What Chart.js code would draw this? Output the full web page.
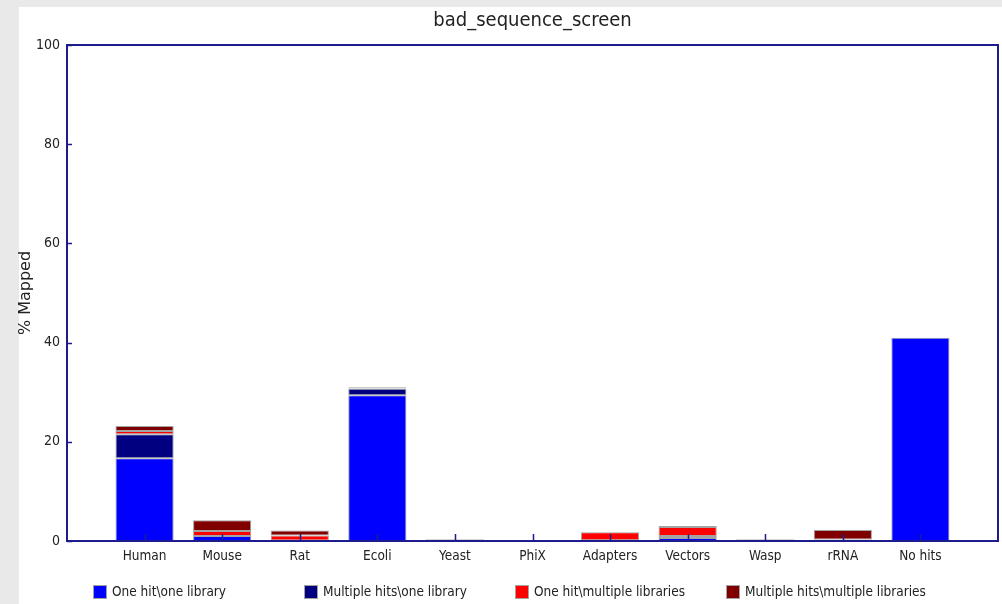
<!DOCTYPE html>
<html>
<head>
<meta charset="utf-8">
<script src="https://cdn.jsdelivr.net/npm/chart.js@4/dist/chart.umd.min.js"></script>
<style>
  html, body { margin: 0; padding: 0; background: #e9e9e9; }
  #panel { position: absolute; left: 19px; top: 7px; width: 983px; height: 597px; background: #ffffff; }
  #wrap { position: absolute; left: 0; top: 0; width: 1002px; height: 604px; }
</style>
</head>
<body>
<div id="panel"></div>
<div id="wrap"><canvas id="c" width="1002" height="604"></canvas></div>
<script>
// Libraries screened
const categories = ['Human', 'Mouse', 'Rat', 'Ecoli', 'Yeast', 'PhiX', 'Adapters', 'Vectors', 'Wasp', 'rRNA', 'No hits'];

// Percentage of reads in each mapping class
const oneHitOneLibrary      = [16.7, 1.0, 0.1, 29.4, 0.3, 0, 0.1, 0.6, 0.3, 0.1, 41.0];
const multiHitsOneLibrary   = [4.8, 0.0, 0.0, 1.3, 0.1, 0, 0.05, 0.4, 0.1, 0.0, 0.0];
const oneHitMultiLibraries  = [0.7, 1.0, 1.0, 0.1, 0.0, 0, 1.6, 1.8, 0.0, 0.2, 0.0];
const multiHitsMultiLibs    = [1.0, 2.2, 1.0, 0.2, 0.0, 0, 0.0, 0.2, 0.0, 1.9, 0.0];

const seriesNames = ['One hit\\one library', 'Multiple hits\\one library', 'One hit\\multiple libraries', 'Multiple hits\\multiple libraries'];
const seriesColors = ['#0000ff', '#000080', '#ff0000', '#800000'];

const yTicks = [0, 20, 40, 60, 80, 100];

// one empty slot on each side of the categories
const labels = [''].concat(categories, ['']);
const pad = arr => [null].concat(arr, [null]);

const FONT = "'Liberation Sans Narrow', 'DejaVu Sans Condensed', 'Liberation Sans', sans-serif";
const AXIS_COLOR = '#1c1c8c';
const BAR_EDGE = '#a3a3a3';

const frameAndTicks = {
  id: 'frameAndTicks',
  afterDatasetsDraw(chart) {
    const { ctx, chartArea: a, scales: { x, y } } = chart;
    ctx.save();
    ctx.strokeStyle = AXIS_COLOR;
    ctx.lineWidth = 2;
    ctx.strokeRect(a.left, a.top, a.right - a.left, a.bottom - a.top);
    ctx.lineWidth = 1.5;
    ctx.beginPath();
    y.ticks.forEach(t => {
      const py = Math.round(y.getPixelForValue(t.value)) + 0.5;
      ctx.moveTo(a.left, py);
      ctx.lineTo(a.left + 5, py);
    });
    labels.forEach((l, i) => {
      if (!l) return;
      const px = Math.round(x.getPixelForTick(i)) + 0.5;
      ctx.moveTo(px, a.bottom);
      ctx.lineTo(px, a.bottom - 7);
    });
    ctx.stroke();
    ctx.restore();
  }
};

const bottomLegend = {
  id: 'bottomLegend',
  afterDraw(chart) {
    const { ctx } = chart;
    ctx.save();
    ctx.font = '13.5px ' + FONT;
    ctx.textBaseline = 'middle';
    ctx.textAlign = 'left';
    chart.data.datasets.forEach((ds, i) => {
      const bx = 93 + i * 211, by = 585;
      ctx.fillStyle = ds.backgroundColor;
      ctx.fillRect(bx, by, 14, 14);
      ctx.strokeStyle = BAR_EDGE;
      ctx.lineWidth = 1;
      ctx.strokeRect(bx + 0.5, by + 0.5, 13, 13);
      ctx.fillStyle = '#222222';
      ctx.fillText(ds.label, bx + 19, by + 7);
    });
    ctx.restore();
  }
};

const seriesData = [oneHitOneLibrary, multiHitsOneLibrary, oneHitMultiLibraries, multiHitsMultiLibs];

new Chart(document.getElementById('c'), {
  type: 'bar',
  data: {
    labels: labels,
    datasets: seriesData.map((arr, i) => ({
      label: seriesNames[i],
      data: pad(arr),
      backgroundColor: seriesColors[i],
      borderColor: BAR_EDGE,
      borderWidth: 1,
      borderSkipped: false,
      barPercentage: 0.75,
      categoryPercentage: 1.0
    }))
  },
  options: {
    responsive: false,
    animation: false,
    layout: { padding: { left: 0, right: 4, top: 0, bottom: 0 } },
    plugins: {
      legend: { display: false },
      tooltip: { enabled: false },
      title: {
        display: true,
        text: 'bad_sequence_screen',
        fullSize: false,
        color: '#222222',
        font: { family: FONT, size: 20, weight: 'normal', lineHeight: 1.2 },
        padding: { top: 9, bottom: 12 }
      }
    },
    scales: {
      x: {
        stacked: true,
        offset: false,
        grid: { display: false, drawTicks: false },
        border: { display: false },
        ticks: {
          autoSkip: false,
          maxRotation: 0,
          padding: 7,
          color: '#222222',
          font: { family: FONT, size: 13.5 }
        },
        afterFit(scale) {
          scale.height = 63;
          scale.paddingLeft = 0;
          scale.paddingRight = 0;
        }
      },
      y: {
        stacked: true,
        min: 0,
        max: 100,
        afterBuildTicks(scale) { scale.ticks = yTicks.map(v => ({ value: v })); },
        grid: { display: false, drawTicks: false },
        border: { display: false },
        ticks: {
          padding: 7,
          color: '#222222',
          font: { family: FONT, size: 14 }
        },
        title: {
          display: true,
          text: '% Mapped',
          color: '#222222',
          font: { family: "'DejaVu Sans', sans-serif", size: 16, lineHeight: 1.2 },
          padding: { top: 16, bottom: 0 }
        },
        afterFit(scale) {
          scale.width = 67;
          scale.paddingTop = 0;
          scale.paddingBottom = 0;
        }
      }
    }
  },
  plugins: [frameAndTicks, bottomLegend]
});
</script>
</body>
</html>
